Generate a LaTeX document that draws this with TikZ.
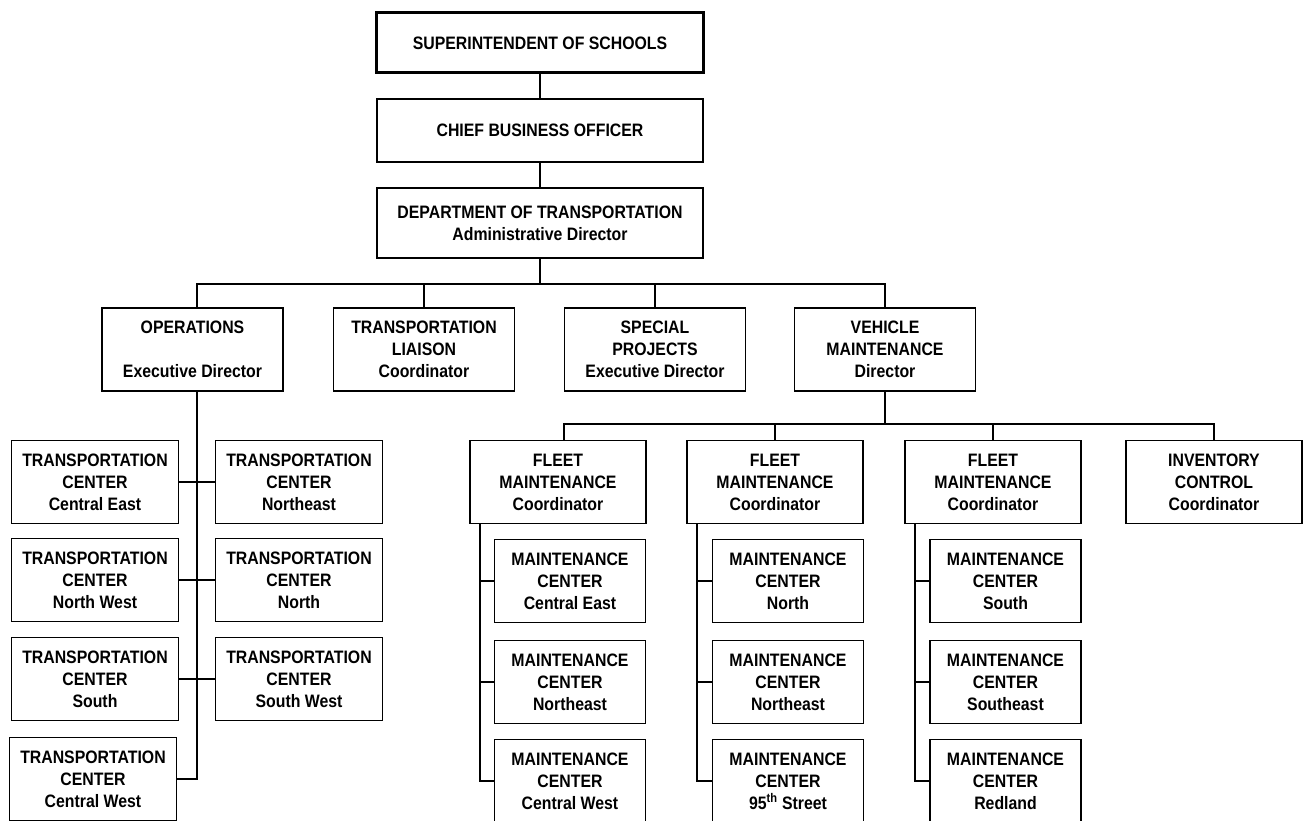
\documentclass[tikz,border=0pt]{standalone}
\usepackage{fontspec}
\setmainfont{Liberation Sans}[FakeStretch=0.88]
\usepackage{tikz}

\begin{document}
\begin{tikzpicture}[x=1pt, y=-1pt,
    unit/.style={rectangle, draw, line width=1.5pt, inner sep=0pt, align=center, font=\bfseries\fontsize{18}{22}\selectfont},
    headbox/.style={unit, line width=3pt, minimum width=327pt},
    wide/.style={unit, minimum width=326pt},
    office/.style={unit, minimum width=181pt, minimum height=83pt},
    tcenter/.style={unit, minimum width=167pt, minimum height=83pt},
    fleet/.style={unit, minimum width=176pt, minimum height=83pt},
    mcenter/.style={unit, minimum width=151pt, minimum height=83pt},
    link/.style={line width=1.5pt}]

\path[use as bounding box] (0,0) rectangle (1304,821);

% top of the chart
\node[headbox, minimum height=60pt] (super) at (540,43) {SUPERINTENDENT OF SCHOOLS};
\node[wide, minimum height=63pt] (cbo) at (540,130.5) {CHIEF BUSINESS OFFICER};
\node[wide, minimum height=70pt] (dot) at (540,223) {DEPARTMENT OF TRANSPORTATION\\Administrative Director};

\node[office] (ops) at (192.5,349.5) {OPERATIONS\\[22pt]Executive Director};
\node[office] (liaison) at (424,349.5) {TRANSPORTATION\\LIAISON\\Coordinator};
\node[office] (special) at (655,349.5) {SPECIAL\\PROJECTS\\Executive Director};
\node[office] (vehicle) at (885,349.5) {VEHICLE\\MAINTENANCE\\Director};

\coordinate (bus) at (540,284);
\coordinate (opsdrop) at (197,284);

\draw[link] (super) -- (cbo);
\draw[link] (cbo) -- (dot);
\draw[link] (dot.south) -- (bus);
\draw[link] (opsdrop |- ops.north) -- (opsdrop) -- (vehicle.north |- opsdrop) -- (vehicle.north);
\draw[link] (liaison.north) -- (liaison.north |- opsdrop);
\draw[link] (special.north) -- (special.north |- opsdrop);

% transportation centers
\node[tcenter] (tcce) at (95,482) {TRANSPORTATION\\CENTER\\Central East};
\node[tcenter] (tcne) at (299,482) {TRANSPORTATION\\CENTER\\Northeast};
\node[tcenter] (tcnw) at (95,580) {TRANSPORTATION\\CENTER\\North West};
\node[tcenter] (tcn) at (299,580) {TRANSPORTATION\\CENTER\\North};
\node[tcenter] (tcs) at (95,679) {TRANSPORTATION\\CENTER\\South};
\node[tcenter] (tcsw) at (299,679) {TRANSPORTATION\\CENTER\\South West};
\node[tcenter] (tccw) at (93,779) {TRANSPORTATION\\CENTER\\Central West};

\draw[link] (opsdrop |- ops.south) -- (opsdrop |- tccw) -- (tccw.east);
\draw[link] (tcce) -- (tcne);
\draw[link] (tcnw) -- (tcn);
\draw[link] (tcs) -- (tcsw);

% vehicle maintenance
\node[fleet] (fleetA) at (558,482) {FLEET\\MAINTENANCE\\Coordinator};
\node[fleet] (fleetB) at (775,482) {FLEET\\MAINTENANCE\\Coordinator};
\node[fleet] (fleetC) at (993,482) {FLEET\\MAINTENANCE\\Coordinator};
\node[fleet] (inv) at (1214,482) {INVENTORY\\CONTROL\\Coordinator};

\coordinate (vbus) at (564,424);
\draw[link] (vehicle.south) -- (vehicle.south |- vbus);
\draw[link] (vbus |- fleetA.north) -- (vbus) -- (inv.north |- vbus) -- (inv.north);
\draw[link] (fleetB.north) -- (fleetB.north |- vbus);
\draw[link] (fleetC.north) -- (fleetC.north |- vbus);

\node[mcenter] (mA1) at (570,581) {MAINTENANCE\\CENTER\\Central East};
\node[mcenter] (mA2) at (570,682) {MAINTENANCE\\CENTER\\Northeast};
\node[mcenter] (mA3) at (570,781) {MAINTENANCE\\CENTER\\Central West};
\node[mcenter] (mB1) at (788,581) {MAINTENANCE\\CENTER\\North};
\node[mcenter] (mB2) at (788,682) {MAINTENANCE\\CENTER\\Northeast};
\node[mcenter] (mB3) at (788,781) {MAINTENANCE\\CENTER\\95\textsuperscript{th} Street};
\node[mcenter] (mC1) at (1005.5,581) {MAINTENANCE\\CENTER\\South};
\node[mcenter] (mC2) at (1005.5,682) {MAINTENANCE\\CENTER\\Southeast};
\node[mcenter] (mC3) at (1005.5,781) {MAINTENANCE\\CENTER\\Redland};

\foreach \f in {A,B,C} {
  \coordinate (t\f) at ([xshift=10.75pt]fleet\f.south west);
  \draw[link] (t\f) |- (m\f3.west);
  \draw[link] (m\f1.west) -- (m\f1.west -| t\f);
  \draw[link] (m\f2.west) -- (m\f2.west -| t\f);
}
\end{tikzpicture}
\end{document}
